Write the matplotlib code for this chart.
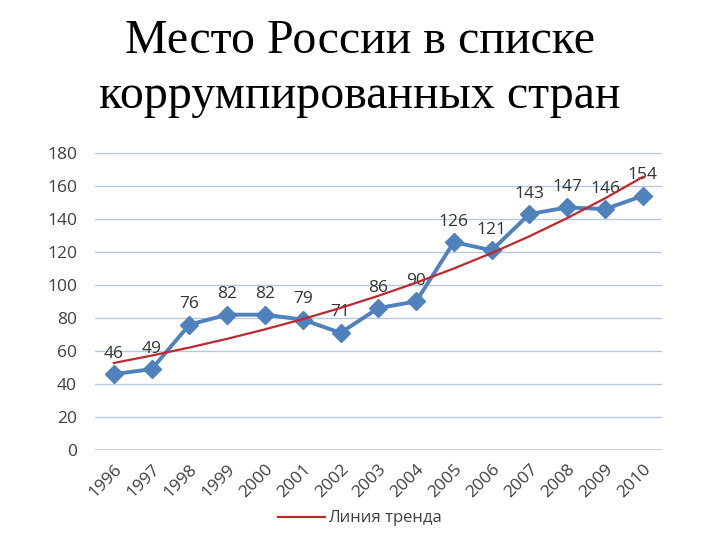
import numpy as np
import matplotlib.pyplot as plt

years = ['1996', '1997', '1998', '1999', '2000', '2001', '2002', '2003',
         '2004', '2005', '2006', '2007', '2008', '2009', '2010']
places = [46, 49, 76, 82, 82, 79, 71, 86, 90, 126, 121, 143, 147, 146, 154]
yticks = [0, 20, 40, 60, 80, 100, 120, 140, 160, 180]

x = np.arange(len(years))

# exponential trend, as in the original spreadsheet
b, a = np.polyfit(x, np.log(places), 1)
trend = np.exp(a + b * x)

fig = plt.figure(figsize=(7.2, 5.4), dpi=100)
fig.text(0.5, 0.965, 'Место России в списке\nкоррумпированных стран',
         ha='center', va='top', fontsize=34.5, family='Liberation Serif',
         linespacing=1.32)

ax = fig.add_axes([0.132, 0.1667, 0.787, 0.55])
for t in yticks[1:]:
    ax.axhline(t, color='#b9c9dc', lw=1.0, zorder=0)
ax.axhline(0, color='#bfbfbf', lw=1.8, zorder=0)

ax.plot(x, places, color='#4f81bd', lw=2.8, marker='D', markersize=9,
        zorder=3)
ax.plot(x, trend, color='#c0282d', lw=1.6, zorder=4, label='Линия тренда')

for xi, v in zip(x, places):
    ax.annotate(str(v), (xi, v), xytext=(0, 9), textcoords='offset points',
                ha='center', va='bottom', fontsize=12.5, color='#333333',
                family='Open Sans')

ax.set_xlim(-0.5, len(years) - 0.5)
ax.set_ylim(0, 180)
ax.set_yticks(yticks)
ax.set_xticks(x)
ax.set_xticklabels(years, rotation=45, ha='right', rotation_mode='anchor')
for lab in ax.get_xticklabels() + ax.get_yticklabels():
    lab.set_family('Open Sans')
    lab.set_fontsize(12.5)
    lab.set_color('#404040')
ax.tick_params(length=0, axis='both')
ax.tick_params(axis='y', pad=13)
ax.tick_params(axis='x', pad=8)
for s in ax.spines.values():
    s.set_visible(False)

leg = fig.legend(loc='center', bbox_to_anchor=(0.5, 0.04), frameon=False,
                 handlelength=2.8, handletextpad=0.2,
                 prop={'family': 'Open Sans', 'size': 12})
for t in leg.get_texts():
    t.set_color('#404040')

fig.savefig('out.png', dpi=100)
